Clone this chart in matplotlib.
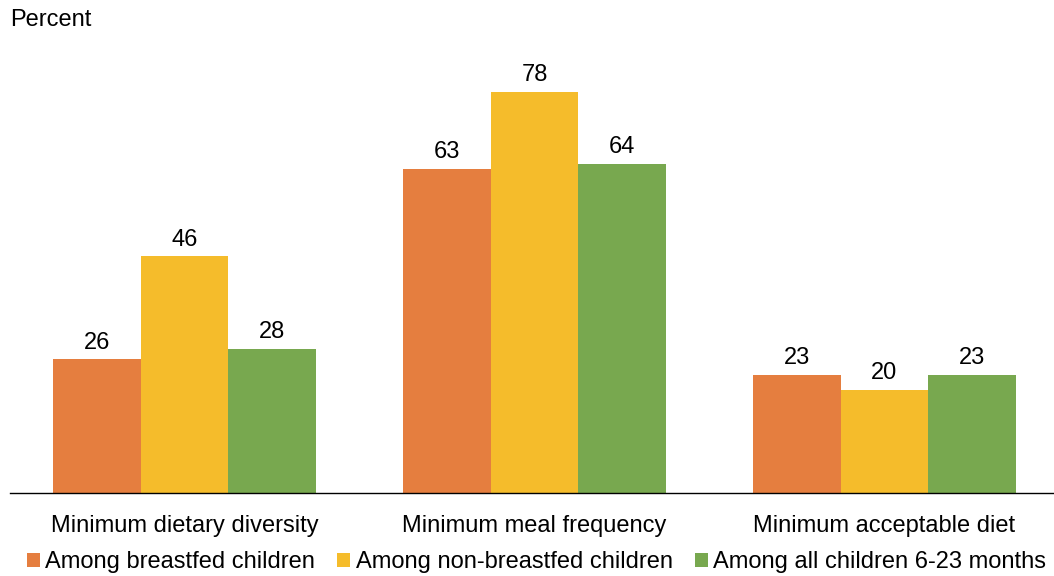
import matplotlib
matplotlib.use("Agg")
import matplotlib.pyplot as plt
import numpy as np

plt.rcParams['font.family'] = ['Liberation Sans', 'DejaVu Sans']

categories = ["Minimum dietary diversity", "Minimum meal frequency", "Minimum acceptable diet"]
series_names = ["Among breastfed children", "Among non-breastfed children", "Among all children 6-23 months"]
breastfed = [26, 63, 23]
non_breastfed = [46, 78, 20]
all_children = [28, 64, 23]
colors = ["#E57E3F", "#F5BC2B", "#78A84F"]

FS = 17
W, H = 1054, 576
fig = plt.figure(figsize=(W / 100, H / 100), dpi=100)
ax_left, ax_right = 9.5, 1054
ax_bottom, ax_top = 493, 30
ax = fig.add_axes([ax_left / W, (H - ax_bottom) / H, (ax_right - ax_left) / W, (ax_bottom - ax_top) / H])

x = np.arange(len(categories))
bw = 0.25
values = [breastfed, non_breastfed, all_children]
for i, (vals, name, c) in enumerate(zip(values, series_names, colors)):
    bars = ax.bar(x + (i - 1) * bw, vals, width=bw, color=c, label=name)
    for b, v in zip(bars, vals):
        ax.text(b.get_x() + b.get_width() / 2, v + 1.1, f"{v}", ha="center", va="bottom", fontsize=FS, color="#000000")

ax.set_xlim(-0.5, -0.5 + (ax_right - ax_left) / 350)
ax.set_ylim(0, 90)
ax.set_yticks([])
ax.set_xticks(x)
ax.set_xticklabels(categories, fontsize=FS)
ax.tick_params(axis="x", length=0, pad=16)
for s in ["top", "right", "left"]:
    ax.spines[s].set_visible(False)
ax.spines["bottom"].set_color("#000000")
ax.spines["bottom"].set_linewidth(1.0)

fig.text(10 / W, 1 - 20 / H, "Percent", fontsize=FS, ha="left", va="center")

leg = fig.legend(loc="center", bbox_to_anchor=(536.5 / W, 1 - 562 / H), ncol=3, frameon=False,
                 fontsize=FS, handlelength=0.55, handleheight=0.55, handletextpad=0.22,
                 columnspacing=0.95, borderpad=0)

fig.savefig("out.png", dpi=100)
